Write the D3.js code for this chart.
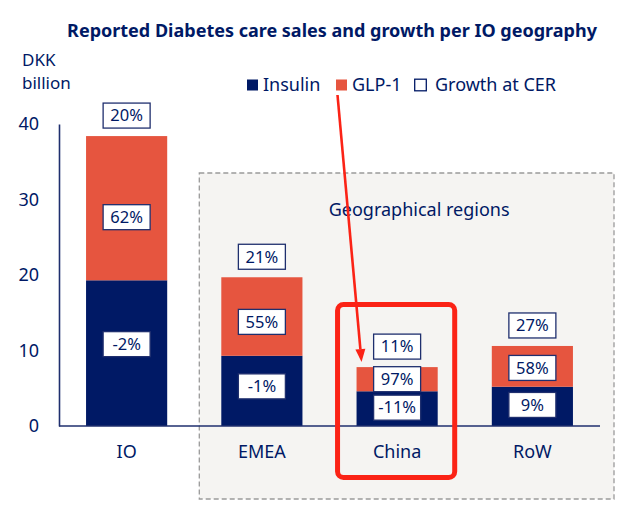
<!DOCTYPE html>
<html><head><meta charset="utf-8">
<script src="https://cdn.jsdelivr.net/npm/d3@7"></script>
<style>
html,body{margin:0;padding:0;background:#fff;}
svg{display:block;font-family:"Noto Sans",sans-serif;}
</style></head>
<body>
<svg id="c" width="635" height="521"></svg>
<script>
const categories = ["IO","EMEA","China","RoW"];
const insulin = [19.3, 9.3, 4.6, 5.2];
const glp1 = [19.1, 10.4, 3.2, 5.4];
const growthTotal = ["20%","21%","11%","27%"];
const growthGlp = ["62%","55%","97%","58%"];
const growthInsulin = ["-2%","-1%","-11%","9%"];
const yTicks = [0,10,20,30,40];
const legendLabels = ["Insulin","GLP-1","Growth at CER"];
const title = "Reported Diabetes care sales and growth per IO geography";
const regionLabel = "Geographical regions";
const unitLines = ["DKK","billion"];

const NAVY = "#001965", CORAL = "#e6553f", RED = "#fb2316";
const FS = 18;
const svg = d3.select("#c");

const x = d3.scaleBand().domain(categories).range([59,600]).paddingInner(0.4).paddingOuter(0.2);
const y = d3.scaleLinear().domain([0,40]).range([426,124]);

// Title
svg.append("text").attr("x",332).attr("y",37).attr("text-anchor","middle")
  .attr("font-size",18).attr("font-weight","bold").attr("fill",NAVY).text(title);

// unit label (two lines)
svg.selectAll(".unit").data(unitLines).join("text").attr("class","unit")
  .attr("x",22).attr("y",(d,i)=>65.5+i*23.5).attr("font-size",17).attr("fill",NAVY).text(d=>d);

// Geographical region box
const regionCats = categories.slice(1);
const rx0 = x(regionCats[0]) - 22, rx1 = 614;
svg.append("rect").attr("x",rx0).attr("y",173).attr("width",rx1-rx0).attr("height",499-173)
  .attr("fill","#f5f4f2").attr("stroke","#9a9a9a").attr("stroke-width",1.3).attr("stroke-dasharray","5,3");
svg.append("text").attr("x",x("China")+x.bandwidth()/2+22).attr("y",210)
  .attr("dy","0.35em").attr("text-anchor","middle").attr("font-size",FS).attr("fill",NAVY).text(regionLabel);

// y axis
const yAxis = d3.axisLeft(y).tickValues(yTicks).tickSize(0).tickPadding(20);
const ga = svg.append("g").attr("transform","translate(59,0)").call(yAxis);
ga.select(".domain").attr("stroke","#1f2f6e").attr("stroke-width",1.6);
ga.selectAll("text").attr("font-size",FS).attr("fill",NAVY).attr("font-family","Noto Sans, sans-serif");

// bars
const rows = categories.map((c,i)=>({c, ins:insulin[i], glp:glp1[i], gt:growthTotal[i], gg:growthGlp[i], gi:growthInsulin[i]}));
svg.selectAll(".ins").data(rows).join("rect").attr("class","ins")
  .attr("x",d=>x(d.c)).attr("width",x.bandwidth())
  .attr("y",d=>y(d.ins)).attr("height",d=>y(0)-y(d.ins)).attr("fill",NAVY);
svg.selectAll(".glp").data(rows).join("rect").attr("class","glp")
  .attr("x",d=>x(d.c)).attr("width",x.bandwidth())
  .attr("y",d=>y(d.ins+d.glp)).attr("height",d=>y(d.ins)-y(d.ins+d.glp)).attr("fill",CORAL);

// baseline
svg.append("line").attr("x1",59).attr("x2",600).attr("y1",y(0)).attr("y2",y(0))
  .attr("stroke","#1f2f6e").attr("stroke-width",1.6);

// category labels
svg.selectAll(".cat").data(categories).join("text").attr("class","cat")
  .attr("x",d=>x(d)+x.bandwidth()/2).attr("y",452).attr("dy","0.35em")
  .attr("text-anchor","middle").attr("font-size",FS).attr("fill",NAVY).text(d=>d);

// label boxes
const BW=47, BH=25;
function pull(h){return Math.max(0,Math.min(9,(h-25)*0.1));}
const labels = [];
rows.forEach(d=>{
  const cx = x(d.c)+x.bandwidth()/2;
  const yIns = y(d.ins), yTot = y(d.ins+d.glp), y0 = y(0);
  labels.push({cx, cy: yTot-20.5, t:d.gt});
  const hg = yIns-yTot; labels.push({cx, cy:(yTot+yIns)/2 + pull(hg), t:d.gg});
  const hi = y0-yIns; labels.push({cx, cy:(yIns+y0)/2 - pull(hi), t:d.gi});
});
const lg = svg.selectAll(".lbl").data(labels).join("g").attr("class","lbl")
  .attr("transform",d=>`translate(${d.cx},${d.cy})`);
lg.append("rect").attr("x",-BW/2).attr("y",-BH/2).attr("width",BW).attr("height",BH)
  .attr("fill","#fff").attr("stroke","#1f2f6e").attr("stroke-width",1.3);
lg.append("text").attr("text-anchor","middle").attr("dy","0.35em").attr("font-size",16.5)
  .attr("fill",NAVY).text(d=>d.t);

// legend
const legX = [247,336,414];
const legFill = [NAVY, CORAL, "#fff"];
const lgd = svg.selectAll(".leg").data(legendLabels).join("g").attr("class","leg")
  .attr("transform",(d,i)=>`translate(${legX[i]},85)`);
lgd.append("rect").attr("x",(d,i)=>i===2?0.7:0).attr("y",(d,i)=>i===2?-5.8:-5.5)
  .attr("width",(d,i)=>i===2?11.6:11).attr("height",(d,i)=>i===2?11.6:11)
  .attr("fill",(d,i)=>legFill[i]).attr("stroke",(d,i)=>i===2?NAVY:"none").attr("stroke-width",1.3);
lgd.append("text").attr("x",(d,i)=>i===2?21:16).attr("dy","0.35em").attr("font-size",FS)
  .attr("fill",NAVY).text(d=>d);

// China highlight
const cxs = x("China");
const chinaTop = y(insulin[2]+glp1[2]);
svg.append("rect").attr("x",cxs-19).attr("y",chinaTop-62.5)
  .attr("width",x.bandwidth()+36).attr("height",(y(0)+51.5)-(chinaTop-62.5))
  .attr("rx",6).attr("fill","none").attr("stroke",RED).attr("stroke-width",5);

// arrow
const ax0 = legX[1]+1.5, ay0 = 95;
const ax1 = cxs+5, ay1 = chinaTop-5;
const ang = Math.atan2(ay1-ay0, ax1-ax0);
const L=13, W=5;
const bx = ax1 - L*Math.cos(ang), by = ay1 - L*Math.sin(ang);
svg.append("line").attr("x1",ax0).attr("y1",ay0).attr("x2",bx).attr("y2",by)
  .attr("stroke",RED).attr("stroke-width",2.6);
svg.append("path").attr("d",`M${ax1},${ay1}L${bx+W*Math.sin(ang)},${by-W*Math.cos(ang)}L${bx-W*Math.sin(ang)},${by+W*Math.cos(ang)}Z`)
  .attr("fill",RED);
</script>
</body></html>
